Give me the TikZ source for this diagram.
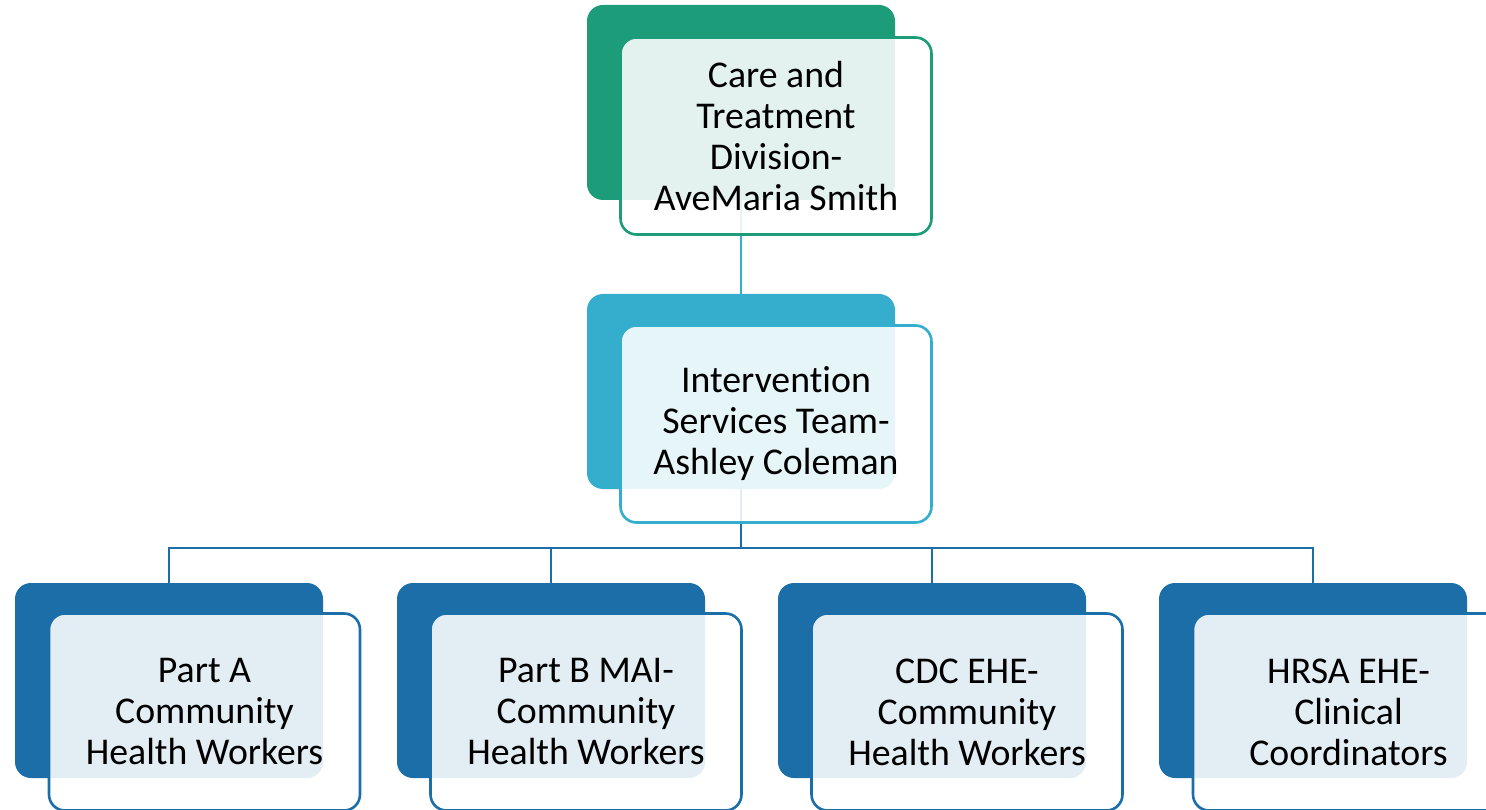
\documentclass[tikz,border=0pt]{standalone}
\usepackage{fontspec}
\setmainfont{Carlito}[Ligatures={NoCommon,NoContextual,NoRare},RawFeature={-liga;-clig;-dlig;-calt}]
\definecolor{cgreen}{RGB}{28,156,120}
\definecolor{cteal}{RGB}{52,174,204}
\definecolor{cblue}{RGB}{28,110,168}
\tikzset{
  backbox/.style={draw=none, fill=#1, rounded corners=16pt, minimum width=308pt, minimum height=195pt, inner sep=0pt},
  frontbox/.style={draw=#1, line width=2.6pt, fill=white, fill opacity=0.88, text opacity=1, rounded corners=16pt,
    minimum width=311pt, minimum height=197pt, inner sep=0pt, align=center, font=\fontsize{37.8}{41}\selectfont},
  conn/.style={draw=#1, line width=2.6pt}
}
\begin{document}
\begin{tikzpicture}[x=1pt,y=-1pt]
\useasboundingbox (0,0) rectangle (1486,810);
\clip (0,0) rectangle (1486,810);
% back boxes
\node[backbox=cgreen] (topb) at (741,102.5) {};
\node[backbox=cteal] (midb) at (741,391.5) {};
\node[backbox=cblue] (b1) at (169,680.5) {};
\node[backbox=cblue] (b2) at (551,680.5) {};
\node[backbox=cblue] (b3) at (932,680.5) {};
\node[backbox=cblue] (b4) at (1313,680.5) {};
% connectors
\coordinate (bus) at (741,548);
\draw[conn=cteal] (topb.south) -- (midb.north);
\draw[conn=cblue] (midb.south) -- (bus);
\draw[conn=cblue] (bus) -| (b1.north);
\draw[conn=cblue] (bus) -| (b2.north);
\draw[conn=cblue] (bus) -| (b3.north);
\draw[conn=cblue] (bus) -| (b4.north);
% front boxes
\node[frontbox=cgreen] (topf) at (776,136) {Care and\\Treatment\\Division-\\AveMaria Smith};
\node[frontbox=cteal] (midf) at (776,424) {Intervention\\Services Team-\\Ashley Coleman};
\node[frontbox=cblue] (f1) at (204.5,712) {Part A\\Community\\Health Workers};
\node[frontbox=cblue] (f2) at (586,712) {Part B MAI-\\Community\\Health Workers};
\node[frontbox=cblue] (f3) at (967,712) {CDC EHE-\\Community\\Health Workers};
\node[frontbox=cblue] (f4) at (1348.5,712) {HRSA EHE-\\Clinical\\Coordinators};
\end{tikzpicture}
\end{document}
